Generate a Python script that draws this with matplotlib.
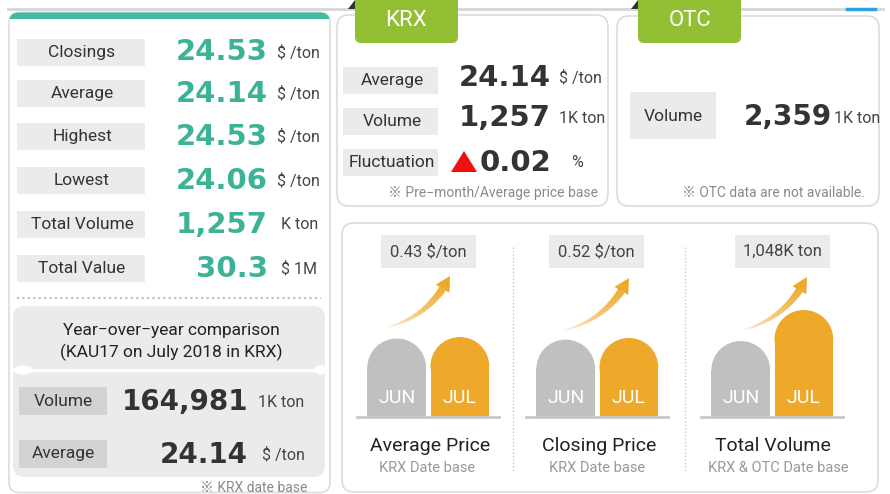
import numpy as np
import matplotlib.pyplot as plt
from matplotlib.patches import FancyBboxPatch, Rectangle, Ellipse, Polygon
from matplotlib.collections import LineCollection
from matplotlib.colors import to_rgba

plt.rcParams['font.family'] = ['Roboto', 'Noto Sans CJK JP', 'DejaVu Sans']

# ---- data ----
left_labels = ['Closings', 'Average', 'Highest', 'Lowest', 'Total Volume', 'Total Value']
left_values = ['24.53', '24.14', '24.53', '24.06', '1,257', '30.3']
left_units = ['$ /ton', '$ /ton', '$ /ton', '$ /ton', 'K ton', '$ 1M']

yoy_title = ['Year\u2212over\u2212year comparison', '(KAU17 on July 2018 in KRX)']
yoy_labels = ['Volume', 'Average']
yoy_values = ['164,981', '24.14']
yoy_units = ['1K ton', '$ /ton']

krx_labels = ['Average', 'Volume', 'Fluctuation']
krx_values = ['24.14', '1,257', '0.02']
krx_units = ['$ /ton', '1K ton', '%']

otc_label, otc_value, otc_unit = 'Volume', '2,359', '1K ton'

months = ['JUN', 'JUL']
avg_price = [23.71, 24.14]
closing_price = [24.01, 24.53]
total_volume = [2568, 3616]
change_labels = ['0.43 $/ton', '0.52 $/ton', '1,048K ton']
group_titles = ['Average Price', 'Closing Price', 'Total Volume']
group_subs = ['KRX Date base', 'KRX Date base', 'KRX & OTC Date base']

# ---- colours ----
TEAL = '#3cb397'
GREEN = '#93bf35'
ORANGE = '#eea82a'
BARGRAY = '#c0c0c0'
BOX = '#ebebeb'
DARK = '#333333'
BORDER = '#dcdcdc'

W, H = 890, 494
fig = plt.figure(figsize=(W / 100, H / 100), dpi=100)
ax = fig.add_axes([0, 0, 1, 1])
ax.set_xlim(0, W)
ax.set_ylim(H, 0)
ax.axis('off')


def rbox(x, y, w, h, r, fc, ec='none', lw=1, z=1):
    p = FancyBboxPatch((x, y), w, h, boxstyle=f'round,pad=0,rounding_size={r}',
                       fc=fc, ec=ec, lw=lw, zorder=z)
    ax.add_patch(p)
    return p


def num(x, y, s, color=DARK, size=21, ha='right'):
    ax.text(x, y, s, ha=ha, va='center', fontsize=size, fontweight='bold',
            family='DejaVu Sans', color=color, zorder=5)


def swoosh(p0, p2):
    # curved up-arrow, fading in from the tail
    p0, p2 = np.array(p0, float), np.array(p2, float)
    c = np.array([p0[0] + 0.68 * (p2[0] - p0[0]), p0[1] + 0.22 * (p2[1] - p0[1])])
    t = np.linspace(0, 0.83, 40)
    pts = ((1 - t) ** 2)[:, None] * p0 + (2 * (1 - t) * t)[:, None] * c + (t ** 2)[:, None] * p2
    segs = [pts[i:i + 2] for i in range(len(pts) - 1)]
    k = np.linspace(0, 1, len(segs))
    cols = [to_rgba(ORANGE, 0.1 + 0.9 * v ** 0.7) for v in k]
    lc = LineCollection(segs, colors=cols, linewidths=0.8 + 4.6 * k, capstyle='butt', zorder=4)
    ax.add_collection(lc)
    d = p2 - pts[-1]
    d /= np.hypot(*d)
    n = np.array([-d[1], d[0]])
    base = pts[-1]
    ax.add_patch(Polygon([p2, base + n * 8, base - n * 8], closed=True, fc=ORANGE, ec='none', zorder=4))


# ---- top rule ----
ax.plot([8, 883], [9.5, 9.5], color='#d6d6d6', lw=2, zorder=0)
ax.plot([847, 875], [9.5, 9.5], color='#2aa3dc', lw=2.5, zorder=1)
ax.add_patch(Polygon([[348, 9], [355, 0], [355, 9]], fc='#333333', zorder=1))
ax.add_patch(Polygon([[631, 9], [638, 0], [638, 9]], fc='#333333', zorder=1))

# ---- left panel ----
panel = rbox(9, 12.5, 321, 480, 10, 'white', BORDER, 1.2)
band = Rectangle((9, 12.5), 321, 7, fc='#45b8a0', ec='none', zorder=2)
ax.add_patch(band)
band.set_clip_path(panel)

row_y = [52.5, 93.5, 136.5, 180.5, 224.5, 268.5]
for yy, lab, val, unit in zip(row_y, left_labels, left_values, left_units):
    ax.add_patch(Rectangle((17, yy - 13.5), 128, 27, fc=BOX, ec='none', zorder=2))
    ax.text(82, yy, lab, ha='center', va='center', fontsize=12.5, color='#333333', zorder=3)
    num(268, yy, val, color=TEAL, size=21)
    ax.text(277 if unit.startswith('$ /') else 281, yy, unit, ha='left', va='center',
            fontsize=11.5, color='#444444', zorder=3)

ax.plot([17, 321], [298, 298], color='#bdbdbd', lw=1.5, ls=(0, (1, 1.6)), zorder=2)

# year-over-year box
rbox(13, 306, 312, 171, 12, BOX, z=2)
ax.text(171, 330, yoy_title[0], ha='center', va='center', fontsize=12.5, color='#222222', zorder=3)
ax.text(171, 352, yoy_title[1], ha='center', va='center', fontsize=12.5, color='#222222', zorder=3)
ax.plot([13, 325], [370, 370], color='white', lw=2, zorder=3)
ax.add_patch(Ellipse((23, 370), 20, 9, fc='white', zorder=3))
ax.add_patch(Ellipse((321, 370), 14, 9, fc='white', zorder=3))
for yy, lab, val, unit in zip([401, 453.5], yoy_labels, yoy_values, yoy_units):
    ax.add_patch(Rectangle((19, yy - 14), 88, 28, fc='#d3d3d3', ec='none', zorder=3))
    ax.text(63, yy, lab, ha='center', va='center', fontsize=12.5, color='#333333', zorder=4)
    num(248, yy + 1, val, size=20)
    ax.text(258 if unit.startswith('1K') else 262, yy + 1, unit, ha='left', va='center',
            fontsize=11.5, color='#444444', zorder=4)
ax.text(307, 488, '\u203b KRX date base', ha='right', va='center', fontsize=10, color='#8a8a8a', zorder=3)

# ---- KRX panel ----
rbox(337, 15, 271, 191, 12, 'white', BORDER, 1.2)
rbox(355, -20, 103, 63, 6, GREEN, z=3)
ax.text(406, 20, 'KRX', ha='center', va='center', fontsize=16, color='white', zorder=4)
krx_y = [81, 121, 162]
for yy, lab, val, unit in zip(krx_y, krx_labels, krx_values, krx_units):
    ax.add_patch(Rectangle((343, yy - 13.5), 95, 27, fc=BOX, ec='none', zorder=2))
    ax.text(392, yy, lab, ha='center', va='center', fontsize=12.5, color='#333333', zorder=3)
    num(551, yy - 3 if lab != 'Fluctuation' else yy + 1, val, size=21)
    if unit == '%':
        ax.text(577, yy, unit, ha='center', va='center', fontsize=11.5, color='#444444', zorder=3)
    else:
        ax.text(559, yy - 3, unit, ha='left', va='center', fontsize=11.5, color='#444444', zorder=3)
ax.add_patch(Polygon([[451, 172], [477, 172], [464, 151]], fc='#ee1111', ec='none', zorder=3))
ax.text(598, 193, '\u203b Pre\u2212month/Average price base', ha='right', va='center',
        fontsize=10, color='#8a8a8a', zorder=3)

# ---- OTC panel ----
rbox(617, 16, 262, 190, 12, 'white', BORDER, 1.2)
rbox(638, -20, 103, 63, 6, GREEN, z=3)
ax.text(690, 20, 'OTC', ha='center', va='center', fontsize=16, color='white', zorder=4)
ax.add_patch(Rectangle((630, 92), 86, 47, fc=BOX, ec='none', zorder=2))
ax.text(673, 116, otc_label, ha='center', va='center', fontsize=12.5, color='#333333', zorder=3)
num(832, 117, otc_value, size=20)
ax.text(834, 118, otc_unit, ha='left', va='center', fontsize=11.5, color='#444444', zorder=3)
ax.text(865, 193, '\u203b OTC data are not available.', ha='right', va='center',
        fontsize=10, color='#8a8a8a', zorder=3)

# ---- bottom comparison panel ----
rbox(342, 223, 536, 269, 12, 'white', BORDER, 1.2)
for xx in [513, 685]:
    ax.plot([xx, xx], [247, 473], color='#c8c8c8', lw=1, ls=(0, (1, 1.5)), zorder=2)

groups = [avg_price, closing_price, total_volume]
base_left = [357, 526, 701]
box_x = [381, 549, 735]
arrows = [((388, 327), (450, 276)), ((565, 330), (629, 278)), ((743, 330), (807, 277))]
title_x = [430, 599, 773]
sub_x = [427, 597, 778]
bar_fill = [0.615, 0.608, 0.823]
AX_H = 130
baseline_y = 417
for g, vals in enumerate(groups):
    ax.add_patch(Rectangle((box_x[g], 235), 95, 33, fc=BOX, ec='none', zorder=2))
    ax.text(box_x[g] + 47.5, 251.5, change_labels[g], ha='center', va='center',
            fontsize=12, color='#444444', zorder=3)
    swoosh(*arrows[g])
    ax.text(title_x[g], 446, group_titles[g], ha='center', va='center', fontsize=14, color='#222222', zorder=3)
    ax.text(sub_x[g], 468, group_subs[g], ha='center', va='center', fontsize=10.5, color='#999999', zorder=3)

    bx = fig.add_axes([base_left[g] / W, (H - baseline_y) / H, 142 / W, AX_H / H])
    bx.patch.set_visible(False)
    bx.axis('off')
    ymax = max(vals) / bar_fill[g]
    bx.set_xlim(-0.63, 1.62)
    bx.set_ylim(0, ymax)
    rh = 29 * ymax / AX_H
    for i, (m, v) in enumerate(zip(months, vals)):
        col = BARGRAY if i == 0 else ORANGE
        bx.bar(i, v - rh, width=0.93, color=col, zorder=2)
        bx.add_patch(Ellipse((i, v - rh), 0.93, 2 * rh, fc=col, ec='none', zorder=2))
        bx.text(i, 0.146, m, transform=bx.get_xaxis_transform(), ha='center', va='center',
                fontsize=14, color='white', zorder=3)
    bx.axhline(0, color='#c8c8c8', lw=2, clip_on=False, zorder=3)

fig.savefig('out.png', dpi=100)
